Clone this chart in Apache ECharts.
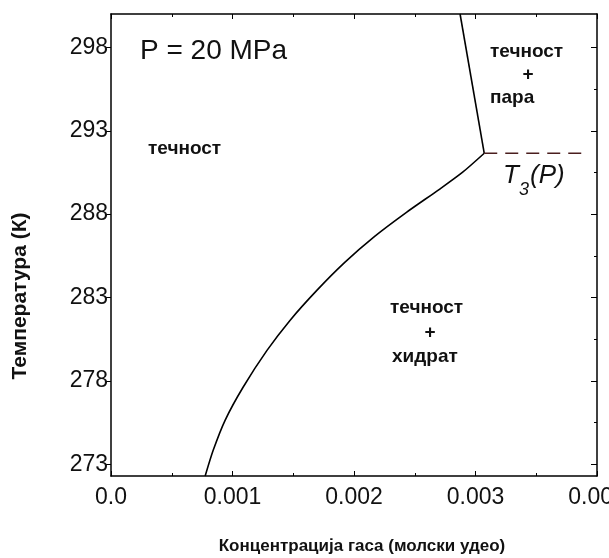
<!DOCTYPE html>
<html><head><meta charset="utf-8">
<script src="https://cdn.jsdelivr.net/npm/echarts@6/dist/echarts.min.js"></script>
<style>html,body{margin:0;padding:0;background:#fff}#c{width:609px;height:558px}</style>
</head><body><div id="c"></div>
<script>
// hydrate / liquid boundary
const hydrateX = [0.000775,0.000841,0.000939,0.001087,0.001284,0.001473,0.001694,0.001924,0.002170,0.002432,0.002703,0.002892,0.003072];
const hydrateT = [272.30,273.84,275.64,277.62,279.83,281.63,283.43,285.11,286.67,288.11,289.49,290.50,291.65];
// liquid / vapour boundary
const vaporX = [0.003072, 0.002873];
const vaporT = [291.65, 300.0];
// three-phase temperature T3(P)
const t3X = [0.003072, 0.003906];
const t3T = [291.65, 291.65];
// axis ticks
const xTicks = [0, 0.001, 0.002, 0.003, 0.004];
const xTickLabels = ['0.0', '0.001', '0.002', '0.003', '0.004'];
const yTicks = [273, 278, 283, 288, 293, 298];
const yMinorTicks = [275.5, 280.5, 285.5, 290.5, 295.5];

const FONT = '"Liberation Sans", Arial, sans-serif';
const INK = '#111';
const zip = (xs, ys) => xs.map((x, i) => [x, ys[i]]);

const chart = echarts.init(document.getElementById('c'), null, {renderer: 'canvas'});
const lineStyleAxis = {color: '#000', width: 1.5};
const xBase = {
  type: 'value', min: xTicks[0], max: xTicks[xTicks.length - 1], interval: 0.001,
  splitLine: {show: false}, axisLine: {show: true, onZero: false, lineStyle: lineStyleAxis}
};
const yBase = {
  type: 'value', min: 272.3, max: 300, splitLine: {show: false},
  axisLine: {show: true, onZero: false, lineStyle: lineStyleAxis}
};
chart.setOption({
  animation: false,
  backgroundColor: '#fff',
  grid: {left: 111, right: 12, top: 14, bottom: 82, containLabel: false, outerBoundsMode: 'none'},
  xAxis: [
    Object.assign({}, xBase, {
      position: 'bottom',
      axisTick: {show: true, inside: true, length: 5, lineStyle: {color: '#000'}},
      minorTick: {show: true, splitNumber: 2, length: 3, lineStyle: {color: '#000'}},
      axisLabel: {
        margin: 10, fontSize: 23, color: INK, fontFamily: FONT, hideOverlap: false,
        showMinLabel: true, showMaxLabel: true,
        formatter: v => xTickLabels[Math.round(v * 1000)]
      }
    }),
    Object.assign({}, xBase, {
      position: 'top',
      axisTick: {show: true, inside: true, length: 5, lineStyle: {color: '#000'}},
      minorTick: {show: true, splitNumber: 2, length: 3, lineStyle: {color: '#000'}},
      axisLabel: {show: false}
    })
  ],
  yAxis: [
    Object.assign({}, yBase, {
      position: 'left',
      axisTick: {show: true, inside: false, length: 5, customValues: yTicks, lineStyle: {color: '#000'}},
      axisLabel: {margin: 3, fontSize: 23, color: INK, fontFamily: FONT, customValues: yTicks}
    }),
    Object.assign({}, yBase, {
      position: 'right',
      axisTick: {show: true, inside: true, length: 6, customValues: yTicks, lineStyle: {color: '#000'}},
      axisLabel: {show: false}
    }),
    Object.assign({}, yBase, {
      position: 'right',
      axisLine: {show: false, onZero: false},
      axisTick: {show: true, inside: true, length: 3, customValues: yMinorTicks, lineStyle: {color: '#000'}},
      axisLabel: {show: false}
    })
  ],
  series: [
    {type: 'line', data: zip(hydrateX, hydrateT), smooth: 0.25, showSymbol: false, symbol: 'none',
     lineStyle: {color: '#000', width: 1.6}, clip: true},
    {type: 'line', data: zip(vaporX, vaporT), showSymbol: false, symbol: 'none',
     lineStyle: {color: '#000', width: 1.6}, clip: true},
    {type: 'line', data: zip(t3X, t3T), showSymbol: false, symbol: 'none',
     lineStyle: {color: '#4a1e1e', width: 1.6, type: [13, 8]}, clip: true}
  ],
  graphic: [
    {type: 'text', left: 140, top: 37, style: {text: 'P = 20 MPa', font: '28px ' + FONT, fill: INK}},
    {type: 'text', x: 148, y: 149, style: {text: 'течност', font: 'bold 19px ' + FONT, fill: INK, textVerticalAlign: 'middle'}},
    {type: 'text', x: 490, y: 52, style: {text: 'течност', font: 'bold 19px ' + FONT, fill: INK, textVerticalAlign: 'middle'}},
    {type: 'text', x: 528, y: 75, style: {text: '+', font: 'bold 19px ' + FONT, fill: INK, textAlign: 'center', textVerticalAlign: 'middle'}},
    {type: 'text', x: 490, y: 98, style: {text: 'пара', font: 'bold 19px ' + FONT, fill: INK, textVerticalAlign: 'middle'}},
    {type: 'text', x: 390, y: 308, style: {text: 'течност', font: 'bold 19px ' + FONT, fill: INK, textVerticalAlign: 'middle'}},
    {type: 'text', x: 430, y: 333, style: {text: '+', font: 'bold 19px ' + FONT, fill: INK, textAlign: 'center', textVerticalAlign: 'middle'}},
    {type: 'text', x: 392, y: 357, style: {text: 'хидрат', font: 'bold 19px ' + FONT, fill: INK, textVerticalAlign: 'middle'}},
    {type: 'text', x: 503, y: 176, style: {text: 'T', font: 'italic 26px ' + FONT, fill: INK, textVerticalAlign: 'middle'}},
    {type: 'text', x: 519, y: 190, style: {text: '3', font: 'italic 18px ' + FONT, fill: INK, textVerticalAlign: 'middle'}},
    {type: 'text', x: 530, y: 176, style: {text: '(P)', font: 'italic 26px ' + FONT, fill: INK, textVerticalAlign: 'middle'}},
    {type: 'text', x: 362, y: 546, style: {text: 'Концентрација гаса (молски удео)', font: 'bold 17px ' + FONT, fill: INK, textAlign: 'center', textVerticalAlign: 'middle'}},
    {type: 'text', x: 20, y: 296, rotation: Math.PI / 2, style: {text: 'Температура (К)', font: 'bold 21px ' + FONT, fill: INK, textAlign: 'center', textVerticalAlign: 'middle'}}
  ]
});
</script>
</body></html>
